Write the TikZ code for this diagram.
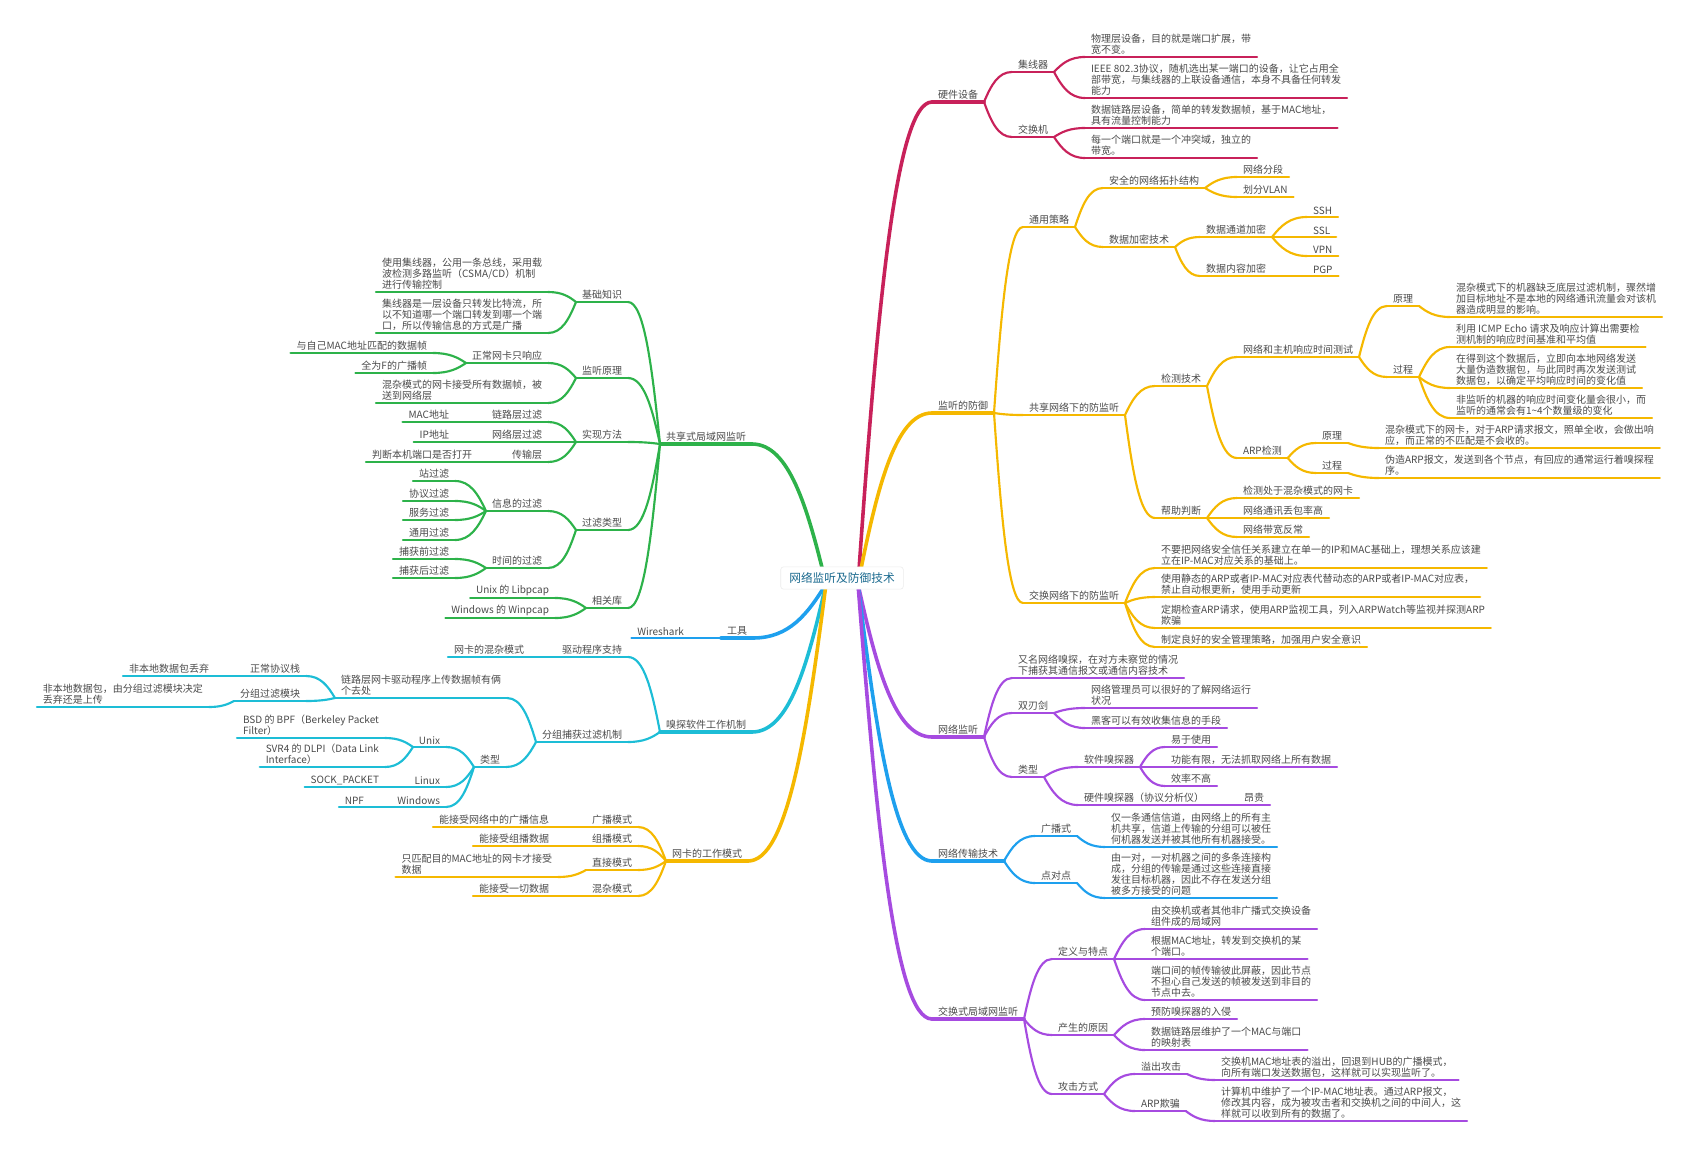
\documentclass[tikz,border=0pt]{standalone}
\usepackage{fontspec}
\setmainfont{Noto Sans CJK SC}
\usetikzlibrary{calc}
\definecolor{txt}{HTML}{4A4A4A}
\definecolor{rootc}{HTML}{1B6A8F}
\definecolor{crim}{HTML}{C8215A}
\definecolor{gold}{HTML}{F5B800}
\definecolor{grn}{HTML}{2DB24A}
\definecolor{sky}{HTML}{1EA0EE}
\definecolor{cyn}{HTML}{1DBDD6}
\definecolor{vio}{HTML}{A64BE0}
\colorlet{brc}{crim}
\newcommand\conn[3][cn]{\draw[#1] let \p1=(#2), \p2=(#3) in (\p1) .. controls ({\x1+0.25*(\x2-\x1)},{\y1+0.55*(\y2-\y1)}) and ({\x1+0.5*(\x2-\x1)},{\y2}) .. (\p2);}
\newcommand\rlink[3][cn]{\conn[#1]{#2.south east}{#3.south west}}
\newcommand\llink[3][cn]{\conn[#1]{#2.south west}{#3.south east}}
\begin{document}
\begin{tikzpicture}[x=0.7pt, y=-0.7pt, font=\fontsize{7}{7.7}\selectfont,
  every node/.style={text=txt, inner xsep=4pt, inner ysep=1.6pt, align=left},
  uline/.style={append after command={(\tikzlastnode.south west) edge[draw=brc, line width=#1, line cap=round] (\tikzlastnode.south east)}},
  rn/.style={anchor=south west, uline=1.5pt},
  ln/.style={anchor=south east, uline=1.5pt},
  rtop/.style={anchor=south west, uline=2.5pt},
  ltop/.style={anchor=south east, uline=2.5pt},
  cn/.style={draw=brc, line width=1.5pt, line cap=round},
  cntop/.style={draw=brc, line width=2.5pt, line cap=round}]
  \useasboundingbox (0,0) rectangle (1700,1154);
  \coordinate (rl) at (826,584);
  \coordinate (rr) at (858,584);

  % hardware
  \colorlet{brc}{crim}
  \node[rtop] (hw) at (932,102) {硬件设备};
  \node[rn] (hub) at (1012,72) {集线器};
  \node[rn] (sw) at (1012,137) {交换机};
  \node[rn] (hub1) at (1085,57) {物理层设备，目的就是端口扩展，带\\宽不变。};
  \node[rn] (hub2) at (1085,98) {IEEE 802.3协议，随机选出某一端口的设备，让它占用全\\部带宽，与集线器的上联设备通信，本身不具备任何转发\\能力};
  \node[rn] (sw1) at (1085,128) {数据链路层设备，简单的转发数据帧，基于MAC地址，\\具有流量控制能力};
  \node[rn] (sw2) at (1085,158) {每一个端口就是一个冲突域，独立的\\带宽。};
  \conn[cntop]{rr}{hw.south west}
  \rlink{hw}{hub} \rlink{hw}{sw}
  \rlink{hub}{hub1} \rlink{hub}{hub2}
  \rlink{sw}{sw1} \rlink{sw}{sw2}

  % defence
  \colorlet{brc}{gold}
  \node[rtop] (def) at (932,413) {监听的防御};
  \node[rn] (gen) at (1023,227) {通用策略};
  \node[rn] (topo) at (1103,188) {安全的网络拓扑结构};
  \node[rn] (seg) at (1237,177) {网络分段};
  \node[rn] (vlan) at (1237,197) {划分VLAN};
  \node[rn] (enc) at (1103,247) {数据加密技术};
  \node[rn] (chan) at (1200,237) {数据通道加密};
  \foreach \nm/\y/\t in {ssh/217/SSH, ssl/237/SSL, vpn/256/VPN}{
    \node[rn] (\nm) at (1307,\y) {\t};
    \rlink{chan}{\nm}
  }
  \node[rn] (cont) at (1200,276) {数据内容加密};
  \node[rn] (pgp) at (1307,276) {PGP};
  \node[rn] (shr) at (1023,415) {共享网络下的防监听};
  \node[rn] (det) at (1155,386) {检测技术};
  \node[rn] (rtt) at (1237,357) {网络和主机响应时间测试};
  \node[rn] (rtp) at (1387,306) {原理};
  \node[rn] (rtp1) at (1450,317) {混杂模式下的机器缺乏底层过滤机制，骤然增\\加目标地址不是本地的网络通讯流量会对该机\\器造成明显的影响。};
  \node[rn] (rtq) at (1387,377) {过程};
  \node[rn] (rtq1) at (1450,347) {利用 ICMP Echo 请求及响应计算出需要检\\测机制的响应时间基准和平均值};
  \node[rn] (rtq2) at (1450,388) {在得到这个数据后，立即向本地网络发送\\大量伪造数据包，与此同时再次发送测试\\数据包，以确定平均响应时间的变化值};
  \node[rn] (rtq3) at (1450,418) {非监听的机器的响应时间变化量会很小，而\\监听的通常会有1\textasciitilde{}4个数量级的变化};
  \node[rn] (arp) at (1237,458) {ARP检测};
  \node[rn] (arpp) at (1316,443) {原理};
  \node[rn] (arpp1) at (1379,448) {混杂模式下的网卡，对于ARP请求报文，照单全收，会做出响\\应，而正常的不匹配是不会收的。};
  \node[rn] (arpq) at (1316,473) {过程};
  \node[rn] (arpq1) at (1379,478) {伪造ARP报文，发送到各个节点，有回应的通常运行着嗅探程\\序。};
  \node[rn] (hlp) at (1155,518) {帮助判断};
  \foreach \nm/\y/\t in {hlp1/498/检测处于混杂模式的网卡, hlp2/518/网络通讯丢包率高, hlp3/537/网络带宽反常}{
    \node[rn] (\nm) at (1237,\y) {\t};
    \rlink{hlp}{\nm}
  }
  \node[rn] (swd) at (1023,603) {交换网络下的防监听};
  \node[rn] (swd1) at (1155,568) {不要把网络安全信任关系建立在单一的IP和MAC基础上，理想关系应该建\\立在IP-MAC对应关系的基础上。};
  \node[rn] (swd2) at (1155,597) {使用静态的ARP或者IP-MAC对应表代替动态的ARP或者IP-MAC对应表，\\禁止自动根更新，使用手动更新};
  \node[rn] (swd3) at (1155,628) {定期检查ARP请求，使用ARP监视工具，列入ARPWatch等监视并探测ARP\\欺骗};
  \node[rn] (swd4) at (1155,647) {制定良好的安全管理策略，加强用户安全意识};
  \conn[cntop]{rr}{def.south west}
  \rlink{def}{gen} \rlink{def}{shr} \rlink{def}{swd}
  \rlink{gen}{topo} \rlink{gen}{enc}
  \rlink{topo}{seg} \rlink{topo}{vlan}
  \rlink{enc}{chan} \rlink{enc}{cont} \rlink{cont}{pgp}
  \rlink{shr}{det} \rlink{shr}{hlp}
  \rlink{det}{rtt} \rlink{det}{arp}
  \rlink{rtt}{rtp} \rlink{rtt}{rtq} \rlink{rtp}{rtp1}
  \rlink{rtq}{rtq1} \rlink{rtq}{rtq2} \rlink{rtq}{rtq3}
  \rlink{arp}{arpp} \rlink{arp}{arpq}
  \rlink{arpp}{arpp1} \rlink{arpq}{arpq1}
  \rlink{swd}{swd1} \rlink{swd}{swd2} \rlink{swd}{swd3} \rlink{swd}{swd4}

  % sniffing
  \colorlet{brc}{vio}
  \node[rtop] (mon) at (932,737) {网络监听};
  \node[rn] (mon1) at (1012,678) {又名网络嗅探，在对方未察觉的情况\\下捕获其通信报文或通信内容技术};
  \node[rn] (dbl) at (1012,713) {双刃剑};
  \node[rn] (dbl1) at (1085,708) {网络管理员可以很好的了解网络运行\\状况};
  \node[rn] (dbl2) at (1085,728) {黑客可以有效收集信息的手段};
  \node[rn] (typ) at (1012,777) {类型};
  \node[rn] (soft) at (1078,767) {软件嗅探器};
  \node[rn] (soft1) at (1165,747) {易于使用};
  \node[rn] (soft2) at (1165,767) {功能有限，无法抓取网络上所有数据};
  \node[rn] (soft3) at (1165,786) {效率不高};
  \node[rn] (hard) at (1078,805) {硬件嗅探器（协议分析仪）};
  \node[rn] (hard1) at (1238,805) {昂贵};
  \conn[cntop]{rr}{mon.south west}
  \rlink{mon}{mon1} \rlink{mon}{dbl} \rlink{mon}{typ}
  \rlink{dbl}{dbl1} \rlink{dbl}{dbl2}
  \rlink{typ}{soft} \rlink{typ}{hard}
  \rlink{soft}{soft1} \rlink{soft}{soft2} \rlink{soft}{soft3}
  \rlink{hard}{hard1}

  % transmission
  \colorlet{brc}{sky}
  \node[rtop] (tx) at (932,861) {网络传输技术};
  \node[rn] (bc) at (1035,836) {广播式};
  \node[rn] (bc1) at (1105,847) {仅一条通信信道，由网络上的所有主\\机共享，信道上传输的分组可以被任\\何机器发送并被其他所有机器接受。};
  \node[rn] (p2p) at (1035,883) {点对点};
  \node[rn] (p2p1) at (1105,898) {由一对，一对机器之间的多条连接构\\成，分组的传输是通过这些连接直接\\发往目标机器，因此不存在发送分组\\被多方接受的问题};
  \conn[cntop]{rr}{tx.south west}
  \rlink{tx}{bc} \rlink{tx}{p2p}
  \rlink{bc}{bc1} \rlink{p2p}{p2p1}

  % switched lan
  \colorlet{brc}{vio}
  \node[rtop] (swl) at (932,1019) {交换式局域网监听};
  \node[rn] (dfn) at (1052,959) {定义与特点};
  \node[rn] (dfn1) at (1145,929) {由交换机或者其他非广播式交换设备\\组件成的局域网};
  \node[rn] (dfn2) at (1145,959) {根据MAC地址，转发到交换机的某\\个端口。};
  \node[rn] (dfn3) at (1145,1000) {端口间的帧传输彼此屏蔽，因此节点\\不担心自己发送的帧被发送到非目的\\节点中去。};
  \node[rn] (why) at (1052,1035) {产生的原因};
  \node[rn] (why1) at (1145,1019) {预防嗅探器的入侵};
  \node[rn] (why2) at (1145,1050) {数据链路层维护了一个MAC与端口\\的映射表};
  \node[rn] (atk) at (1052,1094) {攻击方式};
  \node[rn] (ovf) at (1135,1074) {溢出攻击};
  \node[rn] (ovf1) at (1215,1080) {交换机MAC地址表的溢出，回退到HUB的广播模式，\\向所有端口发送数据包，这样就可以实现监听了。};
  \node[rn] (spf) at (1135,1111) {ARP欺骗};
  \node[rn] (spf1) at (1215,1121) {计算机中维护了一个IP-MAC地址表。通过ARP报文，\\修改其内容，成为被攻击者和交换机之间的中间人，这\\样就可以收到所有的数据了。};
  \conn[cntop]{rr}{swl.south west}
  \rlink{swl}{dfn} \rlink{swl}{why} \rlink{swl}{atk}
  \rlink{dfn}{dfn1} \rlink{dfn}{dfn2} \rlink{dfn}{dfn3}
  \rlink{why}{why1} \rlink{why}{why2}
  \rlink{atk}{ovf} \rlink{atk}{spf}
  \rlink{ovf}{ovf1} \rlink{spf}{spf1}

  % shared lan
  \colorlet{brc}{grn}
  \node[ltop] (shl) at (752,444) {共享式局域网监听};
  \node[ln] (bas) at (628,302) {基础知识};
  \node[ln] (bas1) at (548,292) {使用集线器，公用一条总线，采用载\\波检测多路监听（CSMA/CD）机制\\进行传输控制};
  \node[ln] (bas2) at (548,333) {集线器是一层设备只转发比特流，所\\以不知道哪一个端口转发到哪一个端\\口，所以传输信息的方式是广播};
  \node[ln] (prn) at (628,378) {监听原理};
  \node[ln] (nor) at (548,363) {正常网卡只响应};
  \node[ln] (nor1) at (433,353) {与自己MAC地址匹配的数据帧};
  \node[ln] (nor2) at (433,373) {全为F的广播帧};
  \node[ln] (prn2) at (548,403) {混杂模式的网卡接受所有数据帧，被\\送到网络层};
  \node[ln] (imp) at (628,442) {实现方法};
  \node[ln] (lnk) at (548,422) {链路层过滤};
  \node[ln] (lnk1) at (455,422) {MAC地址};
  \node[ln] (net) at (548,442) {网络层过滤};
  \node[ln] (net1) at (455,442) {IP地址};
  \node[ln] (trn) at (548,462) {传输层};
  \node[ln] (trn1) at (478,462) {判断本机端口是否打开};
  \node[ln] (flt) at (628,530) {过滤类型};
  \node[ln] (inf) at (548,511) {信息的过滤};
  \foreach \nm/\y/\t in {inf1/481/站过滤, inf2/501/协议过滤, inf3/520/服务过滤, inf4/540/通用过滤}{
    \node[ln] (\nm) at (455,\y) {\t};
    \llink{inf}{\nm}
  }
  \node[ln] (tim) at (548,568) {时间的过滤};
  \foreach \nm/\y/\t in {tim1/559/捕获前过滤, tim2/578/捕获后过滤}{
    \node[ln] (\nm) at (455,\y) {\t};
    \llink{tim}{\nm}
  }
  \node[ln] (lib) at (628,608) {相关库};
  \node[ln] (lib1) at (555,598) {Unix 的 Libpcap};
  \node[ln] (lib2) at (555,618) {Windows 的 Winpcap};
  \conn[cntop]{rl}{shl.south east}
  \llink{shl}{bas} \llink{shl}{prn} \llink{shl}{imp} \llink{shl}{flt} \llink{shl}{lib}
  \llink{bas}{bas1} \llink{bas}{bas2}
  \llink{prn}{nor} \llink{prn}{prn2}
  \llink{nor}{nor1} \llink{nor}{nor2}
  \llink{imp}{lnk} \llink{imp}{net} \llink{imp}{trn}
  \llink{lnk}{lnk1} \llink{net}{net1} \llink{trn}{trn1}
  \llink{flt}{inf} \llink{flt}{tim}
  \llink{lib}{lib1} \llink{lib}{lib2}

  % tool
  \colorlet{brc}{sky}
  \node[ltop] (tool) at (753,638) {工具};
  \node[ln] (tool1) at (690,638) {Wireshark};
  \conn[cntop]{rl}{tool.south east}
  \llink{tool}{tool1}

  % sniffer mechanism
  \colorlet{brc}{cyn}
  \node[ltop] (snf) at (752,732) {嗅探软件工作机制};
  \node[ln] (drv) at (628,657) {驱动程序支持};
  \node[ln] (drv1) at (530,657) {网卡的混杂模式};
  \node[ln] (pkt) at (628,742) {分组捕获过滤机制};
  \node[ln] (way) at (507,698) {链路层网卡驱动程序上传数据帧有俩\\个去处};
  \node[ln] (stk) at (306,676) {正常协议栈};
  \node[ln] (stk1) at (215,676) {非本地数据包丢弃};
  \node[ln] (pfm) at (306,701) {分组过滤模块};
  \node[ln] (pfm1) at (209,707) {非本地数据包，由分组过滤模块决定\\丢弃还是上传};
  \node[ln] (ptp) at (506,767) {类型};
  \node[ln] (unx) at (446,747) {Unix};
  \node[ln] (unx1) at (385,738) {BSD 的 BPF（Berkeley Packet\\Filter）};
  \node[ln] (unx2) at (385,767) {SVR4 的 DLPI（Data Link\\Interface）};
  \node[ln] (lnx) at (446,787) {Linux};
  \node[ln] (lnx1) at (385,787) {SOCK\_PACKET};
  \node[ln] (win) at (446,807) {Windows};
  \node[ln] (win1) at (370,807) {NPF};
  \conn[cntop]{rl}{snf.south east}
  \llink{snf}{drv} \llink{snf}{pkt}
  \llink{drv}{drv1}
  \llink{pkt}{way} \llink{pkt}{ptp}
  \llink{way}{stk} \llink{way}{pfm}
  \llink{stk}{stk1} \llink{pfm}{pfm1}
  \llink{ptp}{unx} \llink{ptp}{lnx} \llink{ptp}{win}
  \llink{unx}{unx1} \llink{unx}{unx2}
  \llink{lnx}{lnx1} \llink{win}{win1}

  % nic modes
  \colorlet{brc}{gold}
  \node[ltop] (nic) at (748,861) {网卡的工作模式};
  \node[ln] (bcm) at (638,827) {广播模式};
  \node[ln] (bcm1) at (555,827) {能接受网络中的广播信息};
  \node[ln] (mcm) at (638,846) {组播模式};
  \node[ln] (mcm1) at (555,846) {能接受组播数据};
  \node[ln] (dir) at (638,870) {直接模式};
  \node[ln] (dir1) at (558,877) {只匹配目的MAC地址的网卡才接受\\数据};
  \node[ln] (prm) at (638,896) {混杂模式};
  \node[ln] (prm1) at (555,896) {能接受一切数据};
  \conn[cntop]{rl}{nic.south east}
  \llink{nic}{bcm} \llink{nic}{mcm} \llink{nic}{dir} \llink{nic}{prm}
  \llink{bcm}{bcm1} \llink{mcm}{mcm1} \llink{dir}{dir1} \llink{prm}{prm1}

  \node[fill=white, draw=black!8, rounded corners=2pt, inner xsep=6pt, inner ysep=4pt, text=rootc, font=\fontsize{8.2}{9}\selectfont] (root) at (842,578) {网络监听及防御技术};
\end{tikzpicture}
\end{document}
